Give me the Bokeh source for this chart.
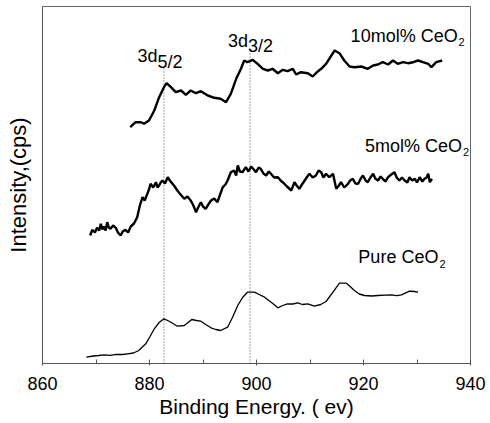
from bokeh.plotting import figure
from bokeh.models import Range1d, FixedTicker, Label
from bokeh.embed import file_html
from bokeh.resources import INLINE

# Binding energy (eV) and intensity (arbitrary, stacked) for each sample
pure_x = [868.2, 869.5, 870.5, 871.5, 872.6, 873.8, 875.0, 875.9, 877.0, 878.0, 879.3, 880.1, 880.9, 881.8, 882.7, 883.4,
          884.0, 885.2, 886.5, 887.2, 887.9, 888.8, 889.6, 890.5, 891.5, 892.4, 893.3, 894.6, 895.5, 896.5, 897.4, 898.3,
          899.6, 900.5, 901.5, 902.8, 904.0, 904.9, 905.8, 906.8, 907.7, 908.6, 909.6, 910.8, 912.0, 913.0, 914.3, 915.5,
          916.8, 917.5, 918.3, 919.2, 920.2, 921.5, 922.7, 924.0, 925.2, 926.2, 927.1, 928.6, 929.5, 930.2]
pure_y = [6.3, 7.5, 8, 8.7, 8.2, 9.2, 9.0, 9.7, 10.5, 13, 19.7, 27, 34.7, 41, 44.7, 43,
          41.3, 37.3, 38, 41, 44, 43, 42.3, 39, 35.7, 34, 33, 36.3, 46, 58, 66, 71.3,
          71.3, 69, 66.3, 61, 55.7, 58, 59.7, 59.5, 60.7, 59, 59.7, 57.3, 59, 62, 71.3, 80.3,
          80.3, 77, 73, 69.5, 68, 67.5, 68, 68.4, 68.7, 67.8, 68.7, 72.3, 72.0, 71.3]

five_x = [868.9, 869.3, 869.8, 870.2, 870.6, 870.9, 871.2, 871.5, 871.8, 872.1, 872.4, 872.7, 873.2, 873.7, 874.1, 874.6,
          875.0, 875.5, 876.0, 876.5, 877.1, 877.7, 878.2, 878.7, 879.1, 879.6, 879.9, 880.2, 880.7, 881.2, 881.5, 881.8,
          882.1, 882.4, 882.9, 883.4, 883.8, 884.3, 884.7, 885.2, 885.8, 886.5, 887.1, 887.7, 888.2, 888.7, 889.1, 889.6,
          890.0, 890.5, 891.0, 891.5, 892.1, 892.7, 893.2, 893.7, 894.2, 894.6, 895.2, 895.8, 896.2, 896.5, 896.9, 897.4,
          898.0, 898.5, 899.0, 899.5, 899.9, 900.4, 900.8, 901.3, 901.8, 902.3, 902.7, 903.3, 904.0, 904.5, 904.9, 905.7,
          906.5, 907.1, 907.5, 908.0, 908.5, 909.0, 909.5, 909.9, 910.5, 911.1, 911.6, 912.1, 912.5, 913.0, 913.6, 914.3,
          914.9, 915.4, 915.8, 916.4, 917.1, 917.5, 918.0, 918.5, 919.0, 919.5, 919.9, 920.4, 920.8, 921.3, 921.8, 922.2,
          922.7, 923.2, 923.6, 924.1, 924.6, 925.2, 925.8, 926.2, 926.7, 927.2, 927.7, 928.2, 928.6, 929.1, 929.6, 930.0,
          930.5, 931.0, 931.4, 931.8, 932.1, 932.4, 932.8]
five_y = [128, 133.7, 131, 135.7, 133, 139.7, 134, 137, 133, 141.3, 136, 134.7, 138, 135.7, 131, 128,
          132, 133.7, 131, 137, 140, 146.3, 158, 166.3, 163, 169.7, 174, 179.7, 176, 181.3, 176, 178,
          181, 183, 180, 186.3, 183, 179.7, 177, 173, 169, 164.7, 167, 163, 158, 151.3, 156, 161.3,
          157, 154.7, 159, 163, 165, 161.3, 169, 176.3, 179, 183, 191.3, 193, 188, 198, 192, 191.3,
          196.3, 192, 197, 194, 191.3, 196, 194.7, 190, 188, 192, 189.7, 186, 186.3, 183, 181.3, 177,
          173, 181.3, 178, 174.7, 179, 183, 187, 189.7, 186, 188, 193, 191.3, 186, 189.7, 186.3, 189.7,
          174.7, 178, 181.3, 176, 179.7, 183, 184.7, 180, 179.7, 185, 188, 183, 181.3, 186, 189.7, 185,
          183, 187, 184.7, 182, 186.3, 189, 191.3, 186, 183, 186, 183, 181, 186.3, 183, 184.7, 181,
          186.3, 182, 184.7, 186, 189.7, 181.3, 184.7]

ten_x = [876.4, 877.4, 878.4, 879.0, 879.9, 880.9, 881.8, 882.7, 883.2, 884.0,
         884.9, 885.9, 886.8, 887.7, 888.7, 889.6, 890.9, 892.1, 893.3, 894.3,
         895.2, 896.2, 897.1, 897.7, 898.3, 899.3, 900.2, 901.2, 902.1, 903.0,
         904.0, 904.9, 905.8, 906.8, 907.4, 908.3, 909.6, 910.5, 911.5, 912.1,
         913.0, 914.0, 914.6, 915.5, 916.4, 917.4, 918.3, 919.6, 920.8, 921.8,
         922.7, 923.6, 924.6, 925.5, 926.4, 927.4, 928.3, 929.3, 930.2, 931.1,
         932.1, 932.7, 933.6, 934.7]
ten_y = [236.3, 241.3, 241.3, 239.7, 243, 253, 266.3, 276.3, 280.3, 276.3,
         271.3, 273, 268.7, 273, 270.3, 272.3, 268, 265.7, 264.7, 261.3,
         269.7, 284.7, 294.7, 303, 301.3, 303.7, 299.7, 294.7, 293, 294.7,
         290.3, 293.7, 292.3, 294.7, 289, 291.3, 290.3, 287, 292.3, 294.7,
         299.7, 308, 313, 310.3, 303, 297, 296.3, 297, 294.7, 298,
         299, 301.3, 299, 303, 299.7, 301.3, 300.3, 301.3, 303, 301.3,
         299.7, 296.3, 301.3, 303]

peak_x = [882.7, 898.8]        # 3d5/2 and 3d3/2 markers
peak_top = [295, 315]
x_ticks = [860, 880, 900, 920, 940]

FONT = "Liberation Sans"

p = figure(width=490, height=423, output_backend="svg", toolbar_location=None,
           x_range=Range1d(860, 940), y_range=Range1d(0, 357),
           min_border_left=42, min_border_right=20, min_border_top=6, min_border_bottom=60)
p.xgrid.visible = False
p.ygrid.visible = False
p.background_fill_color = "white"
p.border_fill_color = "white"
p.outline_line_color = "#666666"
p.outline_line_width = 1

xa = p.xaxis[0]
xa.ticker = FixedTicker(ticks=x_ticks, minor_ticks=[870, 890, 910, 930])
xa.axis_label = "Binding Energy. ( ev)"
xa.axis_label_text_font = FONT
xa.axis_label_text_font_size = "21px"
xa.axis_label_text_font_style = "normal"
xa.axis_label_text_color = "black"
xa.axis_label_standoff = 2
xa.major_label_text_font = FONT
xa.major_label_text_font_size = "18px"
xa.major_label_text_color = "black"
xa.major_label_standoff = 11
xa.axis_line_color = "#555555"
xa.major_tick_line_color = "#555555"
xa.minor_tick_line_color = "#555555"
xa.major_tick_in = 4
xa.major_tick_out = 2
xa.minor_tick_in = 4
xa.minor_tick_out = 0

ya = p.yaxis[0]
ya.ticker = FixedTicker(ticks=[])
ya.axis_label = "Intensity,(cps)"
ya.axis_label_text_font = FONT
ya.axis_label_text_font_size = "22px"
ya.axis_label_text_font_style = "normal"
ya.axis_label_text_color = "black"
ya.axis_label_standoff = 12
ya.axis_line_color = "#555555"
ya.major_tick_line_color = None
ya.minor_tick_line_color = None
ya.major_label_text_font_size = "0px"

# dotted peak markers
p.segment(x0=peak_x, y0=[0, 0], x1=peak_x, y1=peak_top, line_color="#555555",
          line_width=1, line_dash="1 2")

p.line(pure_x, pure_y, line_color="black", line_width=1.3)
p.line(five_x, five_y, line_color="black", line_width=2.4)
p.line(ten_x, ten_y, line_color="black", line_width=2.4)

def lab(x, y, t, size="18px", align="left"):
    p.add_layout(Label(x=x, y=y, text=t, text_font=FONT, text_font_size=size,
                       text_color="black", text_baseline="alphabetic", text_align=align))

# sample names, main text right-aligned against its subscript
lab(937.6, 327.3, "10mol% CeO", align="right")
lab(937.75, 321.3, "2", "11px")
lab(938.4, 218, "5mol% CeO", align="right")
lab(938.6, 211.3, "2", "11px")
lab(934.0, 106.3, "Pure CeO", align="right")
lab(934.2, 100, "2", "11px")

# orbital labels
lab(881.5, 308, "3d", align="right")
lab(881.5, 302, "5/2")
lab(898.4, 323, "3d", align="right")
lab(898.4, 318, "3/2")

open("out.html", "w").write(file_html(p, INLINE))
